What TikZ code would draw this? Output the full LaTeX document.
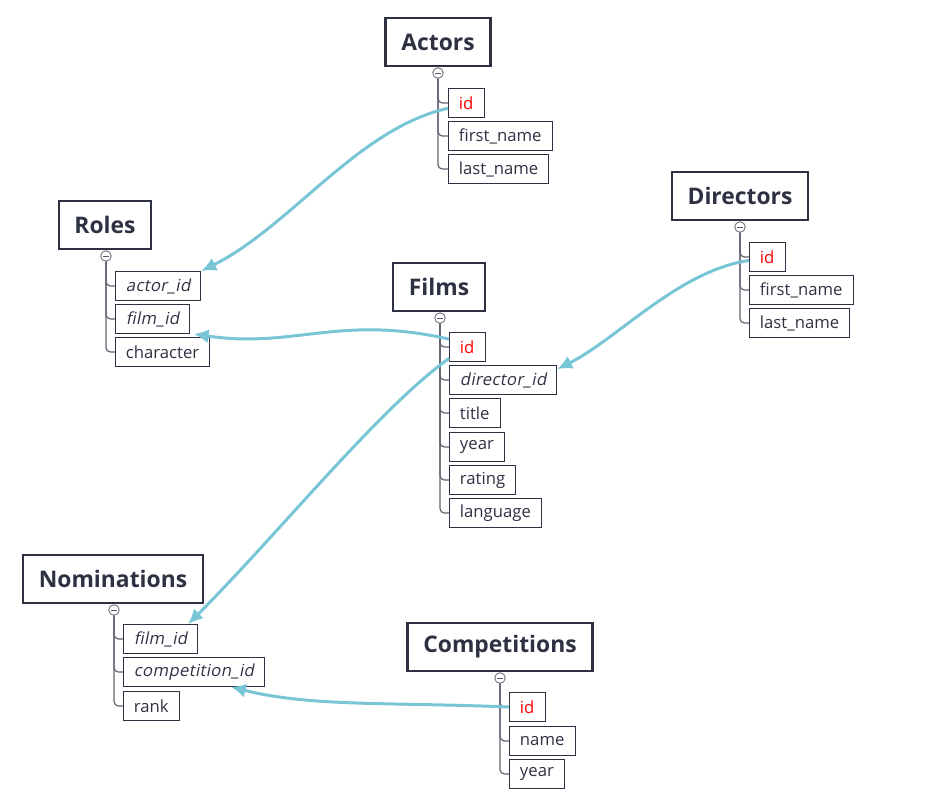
\documentclass[tikz,border=0pt]{standalone}
\usepackage{fontspec}
\setmainfont{Open Sans}
\newfontfamily\slantfont[FakeSlant=0.2,LetterSpace=2]{Open Sans}
\usetikzlibrary{arrows.meta,positioning}
\definecolor{ink}{HTML}{2E3142}
\definecolor{linkblue}{HTML}{78C5D6}
\tikzset{
  table/.style={draw=ink, line width=1.2pt, text=ink, font=\bfseries\fontsize{13}{15}\selectfont, minimum height=27.8pt, inner xsep=9pt},
  field/.style={draw=ink, line width=0.5pt, text=ink, font=\fontsize{9.5}{11}\selectfont, minimum height=16.5pt, inner xsep=6pt, inner ysep=0pt, anchor=west},
  keyfield/.style={field, text=red},
  fkey/.style={field, font=\slantfont\fontsize{9.5}{11}\selectfont},
  fold/.style={circle, draw=ink!70, fill=white, line width=0.5pt, minimum size=6pt, inner sep=0pt,
    path picture={\draw[ink!80, line width=0.45pt] ([xshift=-1.9pt]path picture bounding box.center) -- ([xshift=1.9pt]path picture bounding box.center);}},
  tree/.style={draw=ink!75, line width=0.7pt, rounded corners=2.5pt},
  link/.style={draw=linkblue, line width=1.7pt, -{Latex[length=8.5pt,width=8pt]}}
}

\begin{document}
\begin{tikzpicture}[x=0.02cm, y=-0.02cm]
  \useasboundingbox (0,0) rectangle (926,798);

  % Actors
  \node[table] (actors) at (438,42) {Actors};
  \node[fold] (actorsF) at (438,73) {};
  \node[keyfield] (aId) at (448,103) {id};
  \node[field] (aFirst) at (448,136) {first\_name};
  \node[field] (aLast) at (448,169) {last\_name};
  \foreach \f in {aId,aFirst,aLast} \draw[tree] (actorsF.south) |- (\f.west);

  % Roles
  \node[table] (roles) at (105,225) {Roles};
  \node[fold] (rolesF) at (106,256) {};
  \node[fkey] (rActor) at (115,286) {actor\_id};
  \node[fkey] (rFilm) at (115,319) {film\_id};
  \node[field] (rChar) at (115,352) {character};
  \foreach \f in {rActor,rFilm,rChar} \draw[tree] (rolesF.south) |- (\f.west);

  % Films
  \node[table] (films) at (439,287) {Films};
  \node[fold] (filmsF) at (440,318) {};
  \node[keyfield] (fId) at (449,347) {id};
  \node[fkey] (fDir) at (449,380) {director\_id};
  \node[field] (fTitle) at (449,413) {title};
  \node[field] (fYear) at (449,447) {year};
  \node[field] (fRating) at (449,480) {rating};
  \node[field] (fLang) at (449,513) {language};
  \foreach \f in {fId,fDir,fTitle,fYear,fRating,fLang} \draw[tree] (filmsF.south) |- (\f.west);

  % Directors
  \node[table] (directors) at (740,196) {Directors};
  \node[fold] (directorsF) at (740,227) {};
  \node[keyfield] (dId) at (749,257) {id};
  \node[field] (dFirst) at (749,290) {first\_name};
  \node[field] (dLast) at (749,323) {last\_name};
  \foreach \f in {dId,dFirst,dLast} \draw[tree] (directorsF.south) |- (\f.west);

  % Nominations
  \node[table] (noms) at (113,579) {Nominations};
  \node[fold] (nomsF) at (114,610) {};
  \node[fkey] (nFilm) at (123,639) {film\_id};
  \node[fkey] (nComp) at (123,672) {competition\_id};
  \node[field] (nRank) at (123,706) {rank};
  \foreach \f in {nFilm,nComp,nRank} \draw[tree] (nomsF.south) |- (\f.west);

  % Competitions
  \node[table] (comps) at (500,647) {Competitions};
  \node[fold] (compsF) at (500,678) {};
  \node[keyfield] (cId) at (509,707) {id};
  \node[field] (cName) at (509,741) {name};
  \node[field] (cYear) at (509,774) {year};
  \foreach \f in {cId,cName,cYear} \draw[tree] (compsF.south) |- (\f.west);

  % references
  \draw[link] ([yshift=-3pt]aId.west) .. controls +(-90,20) and +(90,-45) .. (rActor.north east);
  \draw[link] ([yshift=-4pt]fId.north west) .. controls +(-110,-25) and +(100,15) .. ([xshift=2pt]rFilm.south east);
  \draw[link] ([yshift=2pt]fId.south west) .. controls +(-70,50) and +(90,-90) .. ([xshift=-5.7pt]nFilm.north east);
  \draw[link] ([yshift=-2pt]dId.west) .. controls +(-70,10) and +(60,-30) .. ([yshift=-2.3pt]fDir.north east);
  \draw[link] (cId.west) .. controls +(-120,-5) and +(80,20) .. ([xshift=21pt]nComp.south);
\end{tikzpicture}
\end{document}
